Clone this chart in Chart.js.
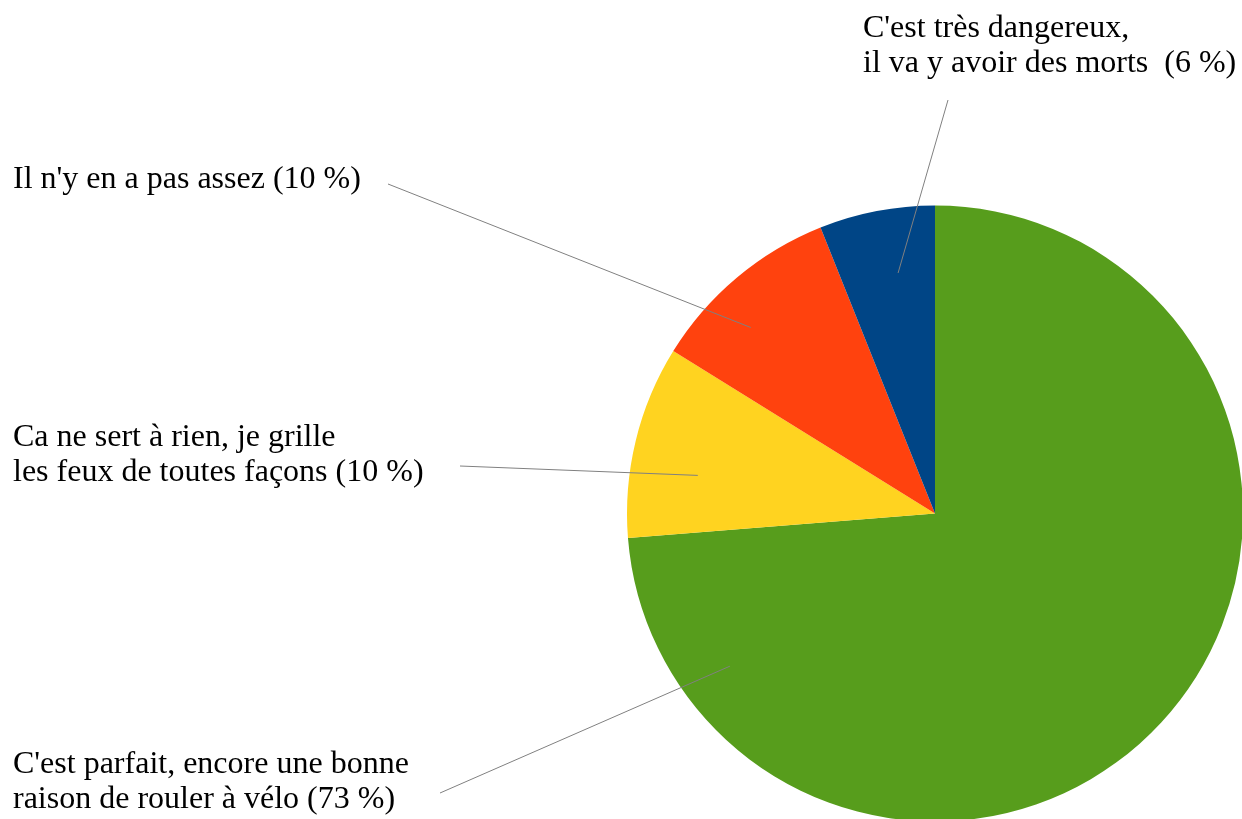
<!DOCTYPE html>
<html>
<head>
<meta charset="utf-8">
<script src="https://cdn.jsdelivr.net/npm/chart.js@4/dist/chart.umd.min.js"></script>
<style>
html, body { margin: 0; padding: 0; background: #ffffff; }
#wrap { width: 1242px; height: 819px; }
</style>
</head>
<body>
<div id="wrap"><canvas id="pie"></canvas></div>
<script>
// answers, in drawing order (clockwise from top)
var categories = [
    ["C'est parfait, encore une bonne", "raison de rouler à vélo (73 %)"],
    ["Ca ne sert à rien, je grille", "les feux de toutes façons (10 %)"],
    ["Il n'y en a pas assez (10 %)"],
    ["C'est très dangereux,", "il va y avoir des morts  (6 %)"]
];
var values = [73, 10, 10, 6];
var colors = ["#579d1c", "#ffd320", "#ff420e", "#004586"];

// where each label sits and where its leader line goes
var labelSpots = [
    {x: 13, y: 773, anchorFrac: 0.879, anchorR: 0.83, lineX: 440, lineY: 793},
    {x: 13, y: 446, anchorFrac: 0.376, anchorR: 0.78, lineX: 460, lineY: 466},
    {x: 13, y: 188, anchorFrac: 0.37, anchorR: 0.85, lineX: 388, lineY: 184},
    {x: 863, y: 37, anchorFrac: 0.60, anchorR: 0.79, lineX: 948, lineY: 100}
];

var calloutPlugin = {
    id: 'callouts',
    afterDatasetsDraw: function(chart)
    {
        var ctx = chart.ctx;
        var arcs = chart.getDatasetMeta(0).data;
        ctx.save();
        for (var i = 0; i < arcs.length; i++)
        {
            var arc = arcs[i];
            var spot = labelSpots[i];
            var p = arc.getProps(['x', 'y', 'startAngle', 'endAngle', 'outerRadius'], true);
            var a = p.startAngle + (p.endAngle - p.startAngle) * spot.anchorFrac;
            var ax = p.x + Math.cos(a) * p.outerRadius * spot.anchorR;
            var ay = p.y + Math.sin(a) * p.outerRadius * spot.anchorR;
            ctx.beginPath();
            ctx.strokeStyle = "#808080";
            ctx.lineWidth = 1;
            ctx.moveTo(ax, ay);
            ctx.lineTo(spot.lineX, spot.lineY);
            ctx.stroke();

            ctx.fillStyle = "#000000";
            ctx.font = "32px 'Liberation Serif'";
            ctx.textAlign = "left";
            ctx.textBaseline = "alphabetic";
            for (var j = 0; j < categories[i].length; j++)
            {
                ctx.fillText(categories[i][j], spot.x, spot.y + j * 35);
            }
        }
        ctx.restore();
    }
};

var pieChart = new Chart(document.getElementById("pie").getContext('2d'), {
    type: 'pie',
    data: {
        labels: categories,
        datasets: [{
            data: values,
            backgroundColor: colors,
            borderWidth: 0
        }]
    },
    options: {
        responsive: true,
        maintainAspectRatio: false,
        animation: false,
        radius: 308,
        layout: {
            padding: {left: 628, top: 208, right: 0, bottom: 0}
        },
        plugins: {
            legend: {display: false},
            tooltip: {enabled: false}
        }
    },
    plugins: [calloutPlugin]
});
</script>
</body>
</html>
